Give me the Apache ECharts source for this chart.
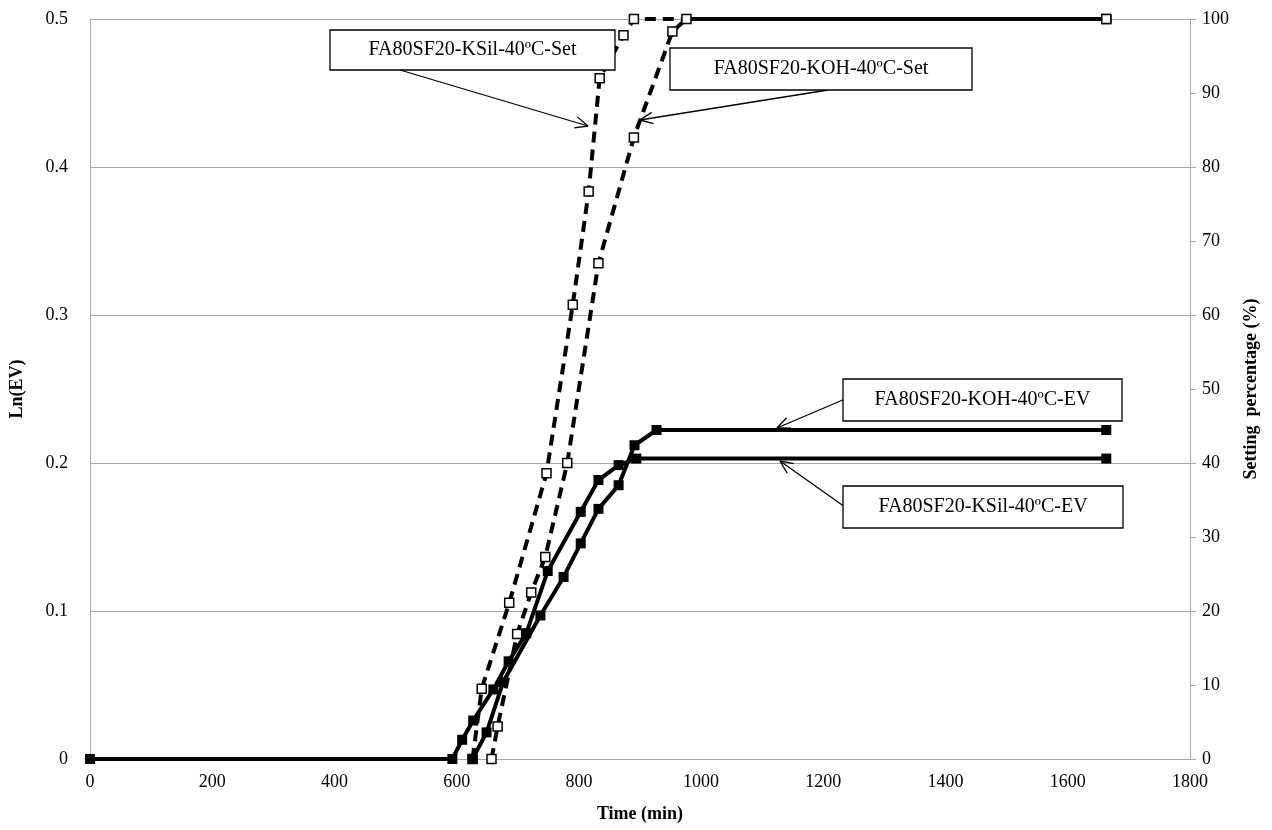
<!DOCTYPE html>
<html>
<head>
<meta charset="utf-8">
<script src="https://cdn.jsdelivr.net/npm/echarts@6/dist/echarts.min.js"></script>
<style>
html,body{margin:0;padding:0;background:#fff;}
#c{width:1272px;height:830px;}
</style>
</head>
<body>
<div id="c"></div>
<script>
// ---- Data (time in min) ----
const ksilEvTime = [0, 593, 609, 627, 660, 685, 714, 749, 803, 832, 865, 894, 1663];
const ksilEvVal  = [0, 0, 0.013, 0.026, 0.047, 0.066, 0.085, 0.127, 0.167, 0.1885, 0.1986, 0.203, 0.203];

const kohEvTime = [626, 649, 676, 737, 775, 803, 832, 865, 891, 927, 1663];
const kohEvVal  = [0, 0.018, 0.052, 0.097, 0.123, 0.1457, 0.169, 0.185, 0.212, 0.2223, 0.2223];

const ksilSetTime = [626, 641, 686, 747, 790, 816, 834, 873, 890, 1663];
const ksilSetVal  = [0, 9.5, 21.1, 38.6, 61.4, 76.7, 92, 97.8, 100, 100];

const kohSetTime = [657, 667, 699, 722, 745, 781, 832, 890, 953, 976, 1663];
const kohSetVal  = [0, 4.4, 16.9, 22.5, 27.3, 40, 67, 84, 98.3, 100, 100];

const xTicks = [0, 200, 400, 600, 800, 1000, 1200, 1400, 1600, 1800];
const leftTicks = [0, 0.1, 0.2, 0.3, 0.4, 0.5];
const rightTicks = [0, 10, 20, 30, 40, 50, 60, 70, 80, 90, 100];

const labels = [
  "FA80SF20-KSil-40ºC-Set",
  "FA80SF20-KOH-40ºC-Set",
  "FA80SF20-KOH-40ºC-EV",
  "FA80SF20-KSil-40ºC-EV"
];

function pairs(xs, ys){ return xs.map((x,i)=>[x, ys[i]]); }

const FONT = '"Liberation Serif", "DejaVu Serif", serif';
const chart = echarts.init(document.getElementById('c'));

const option = {
  animation: false,
  backgroundColor: '#fff',
  grid: {left: 90, right: 82, top: 19, bottom: 71, containLabel: false},
  xAxis: {
    type: 'value', min: xTicks[0], max: xTicks[xTicks.length-1], interval: 200,
    name: 'Time (min)', nameLocation: 'middle', nameGap: 46,
    nameTextStyle: {fontFamily: FONT, fontSize: 18, fontWeight: 'bold', color: '#000'},
    axisLine: {show: true, lineStyle: {color: '#a6a6a6', width: 1}},
    axisTick: {show: false},
    axisLabel: {fontFamily: FONT, fontSize: 18, color: '#000', margin: 14, formatter: v => String(v)},
    splitLine: {show: false}
  },
  yAxis: [
    {
      type: 'value', min: leftTicks[0], max: leftTicks[leftTicks.length-1], interval: 0.1,
      name: 'Ln(EV)', nameLocation: 'middle', nameGap: 64,
      nameTextStyle: {fontFamily: FONT, fontSize: 18, fontWeight: 'bold', color: '#000'},
      axisLine: {show: true, lineStyle: {color: '#a6a6a6'}},
      axisTick: {show: false},
      axisLabel: {fontFamily: FONT, fontSize: 18, color: '#000', margin: 22},
      splitLine: {show: true, lineStyle: {color: '#a6a6a6', width: 1}}
    },
    {
      type: 'value', min: rightTicks[0], max: rightTicks[rightTicks.length-1], interval: 10,
      position: 'right',
      name: 'Setting  percentage (%)', nameLocation: 'middle', nameGap: 52, nameRotate: 90,
      nameTextStyle: {fontFamily: FONT, fontSize: 18, fontWeight: 'bold', color: '#000'},
      axisLine: {show: true, lineStyle: {color: '#a6a6a6'}},
      axisTick: {show: true, inside: false, length: 6, lineStyle: {color: '#a6a6a6'}},
      axisLabel: {fontFamily: FONT, fontSize: 18, color: '#000', margin: 12},
      splitLine: {show: false}
    }
  ],
  series: [
    {
      name: labels[3], type: 'line', yAxisIndex: 0, data: pairs(ksilEvTime, ksilEvVal),
      symbol: 'rect', symbolSize: 10, itemStyle: {color: '#000'},
      lineStyle: {color: '#000', width: 4}, z: 3
    },
    {
      name: labels[2], type: 'line', yAxisIndex: 0, data: pairs(kohEvTime, kohEvVal),
      symbol: 'rect', symbolSize: 10, itemStyle: {color: '#000'},
      lineStyle: {color: '#000', width: 4}, z: 3
    },
    {
      name: labels[0], type: 'line', yAxisIndex: 1, data: pairs(ksilSetTime, ksilSetVal),
      symbol: 'rect', symbolSize: 9, showAllSymbol: true,
      itemStyle: {color: '#fff', borderColor: '#000', borderWidth: 1.5},
      lineStyle: {color: '#000', width: 4, type: [11, 7]}, z: 2
    },
    {
      name: labels[1], type: 'line', yAxisIndex: 1, data: pairs(kohSetTime, kohSetVal),
      symbol: 'rect', symbolSize: 9, showAllSymbol: true,
      itemStyle: {color: '#fff', borderColor: '#000', borderWidth: 1.5},
      lineStyle: {color: '#000', width: 4, type: [11, 7]}, z: 2
    }
  ]
};
chart.setOption(option);

// ---- Annotation callouts (pixel layout) ----
function arrow(x1, y1, x2, y2){
  const ang = Math.atan2(y2 - y1, x2 - x1);
  const L = 14, a = 0.42;
  const els = [{type:'line', shape:{x1, y1, x2, y2}, style:{stroke:'#000', lineWidth:1.3}, z: 20}];
  [ang + Math.PI - a, ang + Math.PI + a].forEach(t => {
    els.push({type:'line', shape:{x1:x2, y1:y2, x2:x2 + L*Math.cos(t), y2:y2 + L*Math.sin(t)},
      style:{stroke:'#000', lineWidth:1.3}, z: 20});
  });
  return els;
}
function box(x, y, w, h, text){
  return [
    {type:'rect', shape:{x, y, width:w, height:h}, style:{fill:'#fff', stroke:'#000', lineWidth:1.3}, z: 21},
    {type:'text', x: x + w/2, y: y + h/2, style:{text, font: '20px ' + FONT, fill:'#000', align:'center', verticalAlign:'middle'}, z: 22}
  ];
}
const g = [].concat(
  arrow(400, 70, 588, 126), box(330, 30, 285, 40, labels[0]),
  arrow(828, 90, 640, 120), box(670, 48, 302, 42, labels[1]),
  arrow(845, 399, 777, 428), box(843, 379, 279, 42, labels[2]),
  arrow(845, 507, 780, 461), box(843, 486, 280, 42, labels[3])
);
chart.setOption({graphic: {elements: g}});
</script>
</body>
</html>
